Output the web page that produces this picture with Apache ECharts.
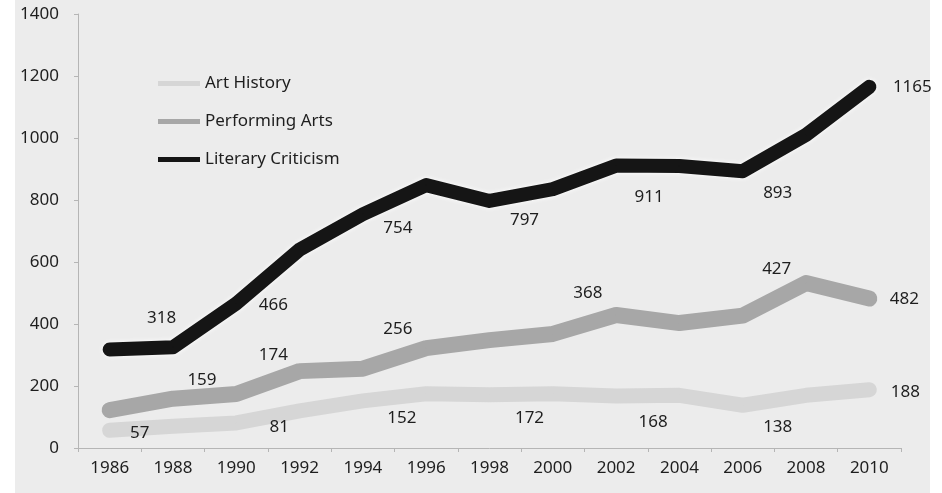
<!DOCTYPE html>
<html>
<head>
<meta charset="utf-8">
<title>Books published by field, 1986–2010</title>
<script src="https://cdn.jsdelivr.net/npm/echarts@6/dist/echarts.min.js"></script>
<style>
  html, body { margin: 0; padding: 0; background: #ffffff; }
  #chart { width: 942px; height: 493px; }
</style>
</head>
<body>
<div id="chart"></div>
<script>
// Yearly counts for three fields of study
const years = ['1986', '1988', '1990', '1992', '1994', '1996', '1998', '2000', '2002', '2004', '2006', '2008', '2010'];
const artHistory        = [57, 70, 81, 120, 152, 175, 172, 175, 168, 170, 138, 170, 188];
const performingArts    = [122, 159, 174, 248, 256, 322, 348, 368, 429, 403, 427, 532, 482];
const literaryCriticism = [318, 325, 466, 640, 754, 848, 797, 835, 911, 910, 893, 1010, 1165];

// Years whose values are printed next to the line
const artLabelYears        = ['1986', '1990', '1994', '1998', '2002', '2006', '2010'];
const performingLabelYears = ['1988', '1990', '1994', '2000', '2006', '2010'];
const literaryLabelYears   = ['1986', '1990', '1994', '1998', '2002', '2006', '2010'];

// Value axis range
const yMin = 0;
const yMax = 1400;
const yStep = 200;

// Where each printed value sits relative to its point (px)
const artOffsets = {
  '1986': [30, 3], '1990': [43, 4], '1994': [39, 17], '1998': [40, 23],
  '2002': [37, 26], '2006': [35, 22], '2010': [36, 2]
};
const performingOffsets = {
  '1988': [29, -19], '1990': [37, -39], '1994': [35, -39], '2000': [35, -41],
  '2006': [34, -46], '2010': [35, 1]
};
const literaryOffsets = {
  '1986': [52, -31], '1990': [37, 2], '1994': [35, 14], '1998': [35, 19],
  '2002': [33, 32], '2006': [35, 22], '2010': [43, 0]
};

const FONT = 'Noto Sans';
const TEXT = '#1e1e1e';

function buildData(values, labelYears, offsets) {
  return values.map(function (v, i) {
    const y = years[i];
    if (labelYears.indexOf(y) >= 0) {
      return { value: v, label: { show: true, offset: offsets[y] || [0, 0] } };
    }
    return { value: v, label: { show: false } };
  });
}

function lineSeries(name, values, labelYears, offsets, color, width, extra) {
  return {
    name: name,
    type: 'line',
    data: buildData(values, labelYears, offsets),
    symbol: 'circle',
    symbolSize: 1,
    showSymbol: true,
    itemStyle: { color: color },
    lineStyle: Object.assign({ color: color, width: width, cap: 'round', join: 'round' }, extra || {}),
    label: {
      show: true,
      position: 'inside',
      align: 'center',
      verticalAlign: 'middle',
      color: TEXT,
      fontFamily: FONT,
      fontSize: 17,
      textBorderWidth: 0
    },
    emphasis: { disabled: true },
    animation: false
  };
}

const chart = echarts.init(document.getElementById('chart'), null, { renderer: 'canvas' });

chart.setOption({
  backgroundColor: '#ffffff',
  animation: false,
  graphic: [{
    type: 'rect',
    silent: true,
    z: -10,
    shape: { x: 15, y: 0, width: 915, height: 493 },
    style: { fill: '#ececec' }
  }],
  grid: { left: 78, right: 41, top: 14, bottom: 45, containLabel: false },
  legend: {
    orient: 'vertical',
    left: 153,
    top: 69,
    icon: 'rect',
    itemWidth: 42,
    itemHeight: 5,
    itemGap: 19,
    textStyle: { fontFamily: FONT, fontSize: 17, lineHeight: 19, color: TEXT },
    data: ['Art History', 'Performing Arts', 'Literary Criticism']
  },
  xAxis: {
    type: 'category',
    data: years,
    boundaryGap: true,
    axisLine: { show: true, lineStyle: { color: '#b5b5b5', width: 1 } },
    axisTick: { show: true, length: 4, lineStyle: { color: '#b5b5b5' } },
    axisLabel: { color: TEXT, fontFamily: FONT, fontSize: 17, margin: 12 },
    splitLine: { show: false }
  },
  yAxis: {
    type: 'value',
    min: yMin,
    max: yMax,
    interval: yStep,
    axisLine: { show: true, lineStyle: { color: '#b5b5b5', width: 1 } },
    axisTick: { show: true, length: 4, lineStyle: { color: '#b5b5b5' } },
    axisLabel: {
      color: TEXT, fontFamily: FONT, fontSize: 17, margin: 19,
      formatter: function (v) { return String(v); }
    },
    splitLine: { show: false }
  },
  series: [
    lineSeries('Art History', artHistory, artLabelYears, artOffsets, '#d6d6d6', 15),
    lineSeries('Performing Arts', performingArts, performingLabelYears, performingOffsets, '#a7a7a7', 16),
    lineSeries('Literary Criticism', literaryCriticism, literaryLabelYears, literaryOffsets, '#151515', 14,
      { shadowColor: '#ffffff', shadowBlur: 5 })
  ]
});
</script>
</body>
</html>
